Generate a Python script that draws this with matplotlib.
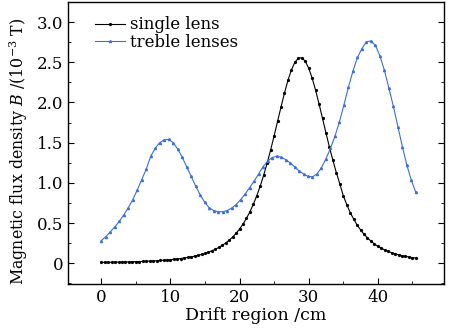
import numpy as np
import matplotlib
matplotlib.use("Agg")
import matplotlib.pyplot as plt
from matplotlib.ticker import MultipleLocator

plt.rcParams["font.family"] = ["DejaVu Serif"]
plt.rcParams["mathtext.fontset"] = "dejavuserif"

# single lens: sampled every 0.5 cm
x_single = np.arange(0, 46, 0.5)
b_single = [
    0.009, 0.010, 0.011, 0.011, 0.012, 0.013, 0.014, 0.015, 0.016, 0.018,
    0.019, 0.020, 0.022, 0.024, 0.026, 0.028, 0.031, 0.034, 0.037, 0.040,
    0.044, 0.048, 0.053, 0.058, 0.065, 0.071, 0.079, 0.088, 0.098, 0.109,
    0.122, 0.137, 0.154, 0.174, 0.196, 0.222, 0.252, 0.286, 0.326, 0.372,
    0.425, 0.487, 0.558, 0.640, 0.734, 0.841, 0.962, 1.098, 1.248, 1.411,
    1.585, 1.765, 1.945, 2.118, 2.275, 2.405, 2.500, 2.551, 2.556, 2.513,
    2.427, 2.303, 2.151, 1.981, 1.801, 1.620, 1.445, 1.279, 1.127, 0.988,
    0.840, 0.730, 0.630, 0.550, 0.475, 0.415, 0.360, 0.315, 0.275, 0.240,
    0.210, 0.187, 0.165, 0.146, 0.130, 0.116, 0.104, 0.094, 0.085, 0.077,
    0.070, 0.064,
]

# treble lenses: sampled every 0.65 cm
x_treble = np.linspace(0, 45.5, 71)
b_treble = [
    0.28, 0.33, 0.39, 0.45, 0.52, 0.60, 0.69, 0.79, 0.91, 1.04,
    1.17, 1.33, 1.43, 1.50, 1.535, 1.54, 1.50, 1.42, 1.32, 1.20,
    1.08, 0.96, 0.85, 0.76, 0.69, 0.655, 0.64, 0.64, 0.655, 0.685,
    0.73, 0.79, 0.86, 0.94, 1.02, 1.11, 1.20, 1.27, 1.315, 1.33,
    1.32, 1.29, 1.25, 1.20, 1.15, 1.11, 1.08, 1.075, 1.11, 1.19,
    1.30, 1.43, 1.58, 1.76, 1.97, 2.19, 2.39, 2.56, 2.67, 2.755,
    2.765, 2.71, 2.58, 2.40, 2.18, 1.95, 1.70, 1.45, 1.22, 1.03,
    0.88,
]

fig = plt.figure(figsize=(4.57, 3.35), dpi=100)
ax = fig.add_axes([0.149, 0.152, 0.823, 0.842])

ax.plot(x_single, b_single, "-o", color="black", lw=0.8, ms=1.3,
        label="single lens")
ax.plot(x_treble, b_treble, "-^", color="#3a6fd8", lw=0.8, ms=1.5,
        label="treble lenses")

ax.set_xlim(-4.8, 49.6)
ax.set_ylim(-0.26, 3.25)
ax.xaxis.set_major_locator(MultipleLocator(10))
ax.xaxis.set_minor_locator(MultipleLocator(5))
ax.yaxis.set_minor_locator(MultipleLocator(0.25))
ax.set_yticks([0, 0.5, 1.0, 1.5, 2.0, 2.5, 3.0])
ax.set_yticklabels(["0", "0.5", "1.0", "1.5", "2.0", "2.5", "3.0"])
ax.tick_params(which="both", direction="in", right=True, top=False,
               labelsize=12)
ax.tick_params(which="major", length=4)
ax.tick_params(which="minor", length=2.5)
for s in ax.spines.values():
    s.set_linewidth(1.0)

ax.set_xlabel("Drift region /cm", fontsize=12.5, labelpad=1)
ax.set_ylabel(r"Magnetic flux density $B$ /(10$^{-3}$ T)", fontsize=11.4)
ax.yaxis.set_label_coords(-0.10, 0.47)

ax.legend(loc="upper left", frameon=False, fontsize=12, handlelength=1.8,
          handletextpad=0.3, labelspacing=0.05, borderaxespad=0.3,
          bbox_to_anchor=(0.04, 0.99))

fig.savefig("out.png", dpi=100)
